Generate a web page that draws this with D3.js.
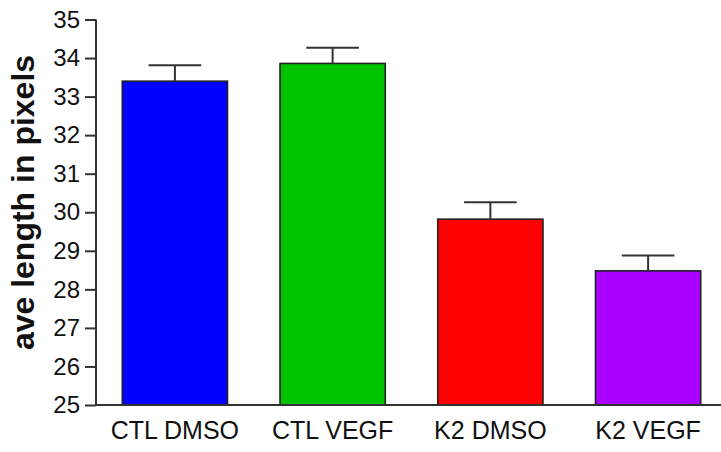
<!DOCTYPE html>
<html>
<head>
<meta charset="utf-8">
<script src="https://cdn.jsdelivr.net/npm/d3@7"></script>
<style>
  body { margin: 0; background: #fff; }
  text { font-family: "Liberation Sans", Arial, sans-serif; fill: #111; }
</style>
</head>
<body>
<svg id="chart" width="721" height="452"></svg>
<script>
var categories = ['CTL DMSO', 'CTL VEGF', 'K2 DMSO', 'K2 VEGF'];
var means = [33.40, 33.86, 29.82, 28.48];
var errors = [0.41, 0.41, 0.44, 0.40];
var colors = ['#0000ff', '#00c400', '#ff0000', '#aa00ff'];
var yTicks = [25, 26, 27, 28, 29, 30, 31, 32, 33, 34, 35];

var plotLeft = 96;
var plotTop = 19.5;
var plotBottom = 405;

var svg = d3.select('#chart');

var x = d3.scaleBand()
  .domain(categories)
  .range([plotLeft, 727])
  .paddingInner(0.333)
  .paddingOuter(0.1667);

var y = d3.scaleLinear()
  .domain([25, 35])
  .range([plotBottom, plotTop]);

// bars
svg.selectAll('rect.bar').data(categories).enter().append('rect')
  .attr('class', 'bar')
  .attr('x', function(d) { return x(d); })
  .attr('y', function(d, i) { return y(means[i]); })
  .attr('width', x.bandwidth())
  .attr('height', function(d, i) { return plotBottom - y(means[i]); })
  .attr('fill', function(d, i) { return colors[i]; })
  .attr('stroke', '#222')
  .attr('stroke-width', 1.6);

// error bars (upper only)
var err = svg.selectAll('g.err').data(categories).enter().append('g')
  .attr('class', 'err')
  .attr('stroke', '#333')
  .attr('stroke-width', 2);
err.append('line')
  .attr('x1', function(d) { return x(d) + x.bandwidth() / 2; })
  .attr('x2', function(d) { return x(d) + x.bandwidth() / 2; })
  .attr('y1', function(d, i) { return y(means[i]); })
  .attr('y2', function(d, i) { return y(means[i] + errors[i]); });
err.append('line')
  .attr('x1', function(d) { return x(d) + x.bandwidth() * 0.25; })
  .attr('x2', function(d) { return x(d) + x.bandwidth() * 0.75; })
  .attr('y1', function(d, i) { return y(means[i] + errors[i]); })
  .attr('y2', function(d, i) { return y(means[i] + errors[i]); });

// y axis
var yAxis = svg.append('g')
  .attr('transform', 'translate(' + plotLeft + ',0)')
  .call(d3.axisLeft(y).tickValues(yTicks).tickSize(11).tickPadding(5));
yAxis.select('.domain').attr('stroke', '#333').attr('stroke-width', 2)
  .attr('d', 'M0,' + plotTop + 'V' + plotBottom);
yAxis.selectAll('.tick line').attr('stroke', '#333').attr('stroke-width', 2);
yAxis.selectAll('.tick text')
  .attr('font-size', 24)
  .attr('font-family', '"Liberation Sans", Arial, sans-serif')
  .attr('fill', '#111');

// x axis
var xAxis = svg.append('g')
  .attr('transform', 'translate(0,' + plotBottom + ')')
  .call(d3.axisBottom(x).tickSize(0).tickPadding(16));
xAxis.select('.domain').attr('stroke', '#333').attr('stroke-width', 2)
  .attr('d', 'M' + plotLeft + ',0H721');
xAxis.selectAll('.tick text')
  .attr('font-size', 25)
  .attr('font-family', '"Liberation Sans", Arial, sans-serif')
  .attr('fill', '#111');

// y title
svg.append('text')
  .attr('transform', 'translate(34,' + ((52 + 353) / 2) + ') rotate(-90)')
  .attr('text-anchor', 'middle')
  .attr('font-size', 32)
  .attr('font-weight', 'bold')
  .text('ave length in pixels');
</script>
</body>
</html>
